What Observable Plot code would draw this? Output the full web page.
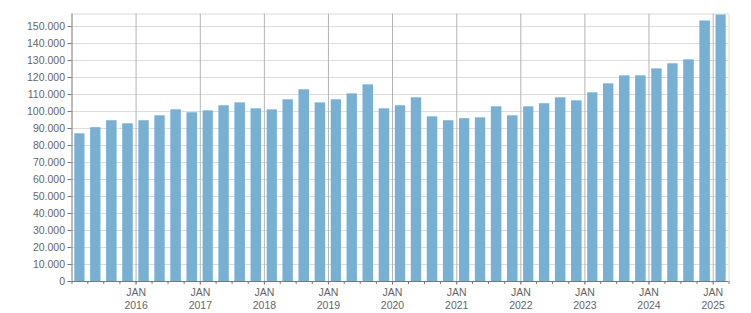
<!DOCTYPE html>
<html>
<head>
<meta charset="utf-8">
<script src="https://cdn.jsdelivr.net/npm/d3@7"></script>
<script src="https://cdn.jsdelivr.net/npm/@observablehq/plot@0.6"></script>
<style>
  html, body { margin: 0; padding: 0; background: #fff; }
  svg { display: block; }
</style>
</head>
<body>
<div id="chart"></div>
<script>
// Quarterly values (start of each quarter), Q1 2015 – Q1 2025
const quarters = [
  "2015-01","2015-04","2015-07","2015-10",
  "2016-01","2016-04","2016-07","2016-10",
  "2017-01","2017-04","2017-07","2017-10",
  "2018-01","2018-04","2018-07","2018-10",
  "2019-01","2019-04","2019-07","2019-10",
  "2020-01","2020-04","2020-07","2020-10",
  "2021-01","2021-04","2021-07","2021-10",
  "2022-01","2022-04","2022-07","2022-10",
  "2023-01","2023-04","2023-07","2023-10",
  "2024-01","2024-04","2024-07","2024-10",
  "2025-01"
];
const values = [
  86900, 90500, 94600, 92800,
  94600, 97500, 101000, 99300,
  100400, 103400, 105100, 101600,
  101000, 106900, 112800, 105100,
  106900, 110400, 115700, 101600,
  103400, 108100, 96900, 94600,
  95800, 96300, 102800, 97500,
  102800, 104600, 108100, 106300,
  111000, 116300, 121000, 121000,
  125100, 128100, 130400, 153300,
  156800
];
const yTicks = [0,10000,20000,30000,40000,50000,60000,70000,80000,90000,100000,110000,120000,130000,140000,150000];
const yearLabels = ["2016","2017","2018","2019","2020","2021","2022","2023","2024","2025"];
const monthLabel = "JAN";

const parse = d3.utcParse("%Y-%m");
const data = quarters.map((q, i) => {
  const start = parse(q);
  return {start, end: d3.utcMonth.offset(start, 3), value: values[i]};
});
const xStart = parse("2015-01");
const xEnd = parse("2025-04");
const yMax = 157400;
const yearTicks = yearLabels.map(y => parse(y + "-01"));
const quarterTicks = d3.utcMonth.every(3).range(xStart, d3.utcDay.offset(xEnd, 1));

const locale = d3.formatLocale({decimal: ",", thousands: ".", grouping: [3], currency: ["", ""]});
const fmt = locale.format(",");

const chart = Plot.plot({
  width: 751,
  height: 313,
  marginLeft: 71.5,
  marginRight: 22.5,
  marginTop: 13.5,
  marginBottom: 32,
  style: {fontFamily: "'Liberation Sans', Arial, sans-serif", fontSize: "10.5px", color: "#666", background: "#fff"},
  x: {type: "utc", domain: [xStart, xEnd], axis: null},
  y: {domain: [0, yMax], axis: null},
  marks: [
    // horizontal grid
    Plot.ruleY(yTicks.filter(d => d > 0), {stroke: "#dcdcdc", strokeWidth: 1}),
    // top and right frame
    Plot.ruleY([yMax], {stroke: "#dcdcdc"}),
    Plot.ruleX([xEnd], {stroke: "#dcdcdc"}),
    // bars
    Plot.rectY(data, {x1: "start", x2: "end", y: "value", fill: "#77b0d3", insetLeft: 2.8, insetRight: 2.8}),
    // vertical year lines extending below the axis
    Plot.ruleX(yearTicks, {stroke: "#b4b4b4", strokeWidth: 1, insetBottom: -4}),
    // quarter minor ticks
    Plot.axisX({ticks: quarterTicks, tickSize: 3, tickFormat: () => "", stroke: "#777", label: null}),
    // year labels
    Plot.axisX({ticks: yearTicks, tickSize: 0, tickPadding: 5, stroke: "#666", label: null,
      tickFormat: d => monthLabel + "\n" + d3.utcFormat("%Y")(d), lineHeight: 1.25, fill: "#666"}),
    // y axis
    Plot.axisY({ticks: yTicks, tickSize: 4, tickPadding: 3, tickFormat: fmt, stroke: "#777", fill: "#666", label: null}),
    // axis lines
    Plot.ruleX([xStart], {stroke: "#777"}),
    Plot.ruleY([0], {stroke: "#777"})
  ]
});
document.getElementById("chart").appendChild(chart);
</script>
</body>
</html>
